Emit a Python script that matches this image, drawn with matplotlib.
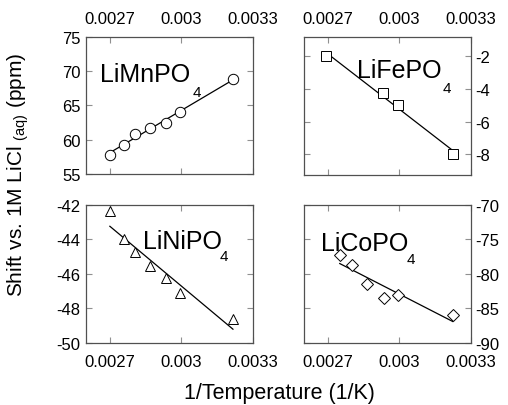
import numpy as np
import matplotlib
matplotlib.use('Agg')
import matplotlib.pyplot as plt

plt.rcParams['font.family'] = ['Liberation Sans', 'DejaVu Sans']
plt.rcParams['mathtext.fontset'] = 'custom'
plt.rcParams['mathtext.rm'] = 'Liberation Sans'

# data (x = 1/T in 1/K, y = shift in ppm)
mn_x = [0.00270, 0.002758, 0.002805, 0.002869, 0.002934, 0.002993, 0.003216]
mn_y = [57.8, 59.3, 60.9, 61.7, 62.5, 64.1, 68.8]

fe_x = [0.002692, 0.002933, 0.002994, 0.003226]
fe_y = [-2.0, -4.28, -4.97, -8.0]

ni_x = [0.00270, 0.002758, 0.002805, 0.002869, 0.002934, 0.002993, 0.003216]
ni_y = [-42.37, -43.96, -44.74, -45.51, -46.23, -47.11, -48.62]

co_x = [0.00275, 0.002803, 0.002864, 0.002935, 0.002994, 0.003224]
co_y = [-77.3, -78.75, -81.4, -83.45, -83.0, -86.0]

xticks = [0.0027, 0.003, 0.0033]
xticklabels = ['0.0027', '0.003', '0.0033']

fig = plt.figure(figsize=(5.08, 4.06), dpi=100)

panels = [
    # x, y, marker, rect, ylim, yticks, label, label pos, sub pos, y side, x side
    (mn_x, mn_y, 'o', [0.1693, 0.569, 0.3287, 0.3374], (55, 75), [55, 60, 65, 70, 75],
     'LiMnPO', (0.084, 0.68), (0.64, 0.57), 'left', 'top'),
    (fe_x, fe_y, 's', [0.5984, 0.5665, 0.3287, 0.34], (-9.25, -0.85), [-8, -6, -4, -2],
     'LiFePO', (0.32, 0.71), (0.83, 0.60), 'right', 'top'),
    (ni_x, ni_y, '^', [0.1693, 0.1527, 0.3287, 0.34], (-50, -42), [-50, -48, -46, -44, -42],
     'LiNiPO', (0.34, 0.686), (0.80, 0.60), 'left', 'bottom'),
    (co_x, co_y, 'D', [0.5984, 0.1527, 0.3287, 0.34], (-90, -70), [-90, -85, -80, -75, -70],
     'LiCoPO', (0.10, 0.674), (0.615, 0.58), 'right', 'bottom'),
]

for x, y, mk, rect, ylim, yt, name, lpos, spos, yside, xside in panels:
    ax = fig.add_axes(rect)
    x = np.array(x)
    y = np.array(y)
    # linear fit through the points
    p = np.polyfit(x, y, 1)
    xx = np.array([x.min(), x.max()])
    ax.plot(xx, np.polyval(p, xx), color='black', lw=0.9)
    ms = 6 if mk == 'D' else 7.5
    ax.plot(x, y, mk, mfc='white', mec='black', mew=0.7, ms=ms, ls='none')

    ax.set_xlim(0.0026, 0.0033)
    ax.set_ylim(*ylim)
    ax.set_xticks(xticks)
    ax.set_xticklabels(xticklabels)
    ax.set_yticks(yt)
    ax.set_yticklabels([str(v) for v in yt])

    ax.tick_params(direction='in', length=4, width=0.8, color='#909090',
                   top=True, bottom=True, left=True, right=True, labelsize=12)
    ax.tick_params(axis='x', pad=8, labeltop=(xside == 'top'), labelbottom=(xside == 'bottom'))
    ax.tick_params(axis='y', pad=3 if yside == 'right' else 4,
                   labelleft=(yside == 'left'), labelright=(yside == 'right'))
    for s in ax.spines.values():
        s.set_color('#505050')
        s.set_linewidth(0.9)

    ax.text(lpos[0], lpos[1], name, transform=ax.transAxes, fontsize=18)
    ax.text(spos[0], spos[1], '4', transform=ax.transAxes, fontsize=11)

fig.text(0.55, 0.032, '1/Temperature (1/K)', ha='center', va='center', fontsize=15.5)
fig.text(0.035, 0.569, r'Shift vs. 1M LiCl $_{\mathrm{(aq)}}$ (ppm)', rotation=90,
         ha='center', va='center', fontsize=15)

fig.savefig('out.png', dpi=100)
